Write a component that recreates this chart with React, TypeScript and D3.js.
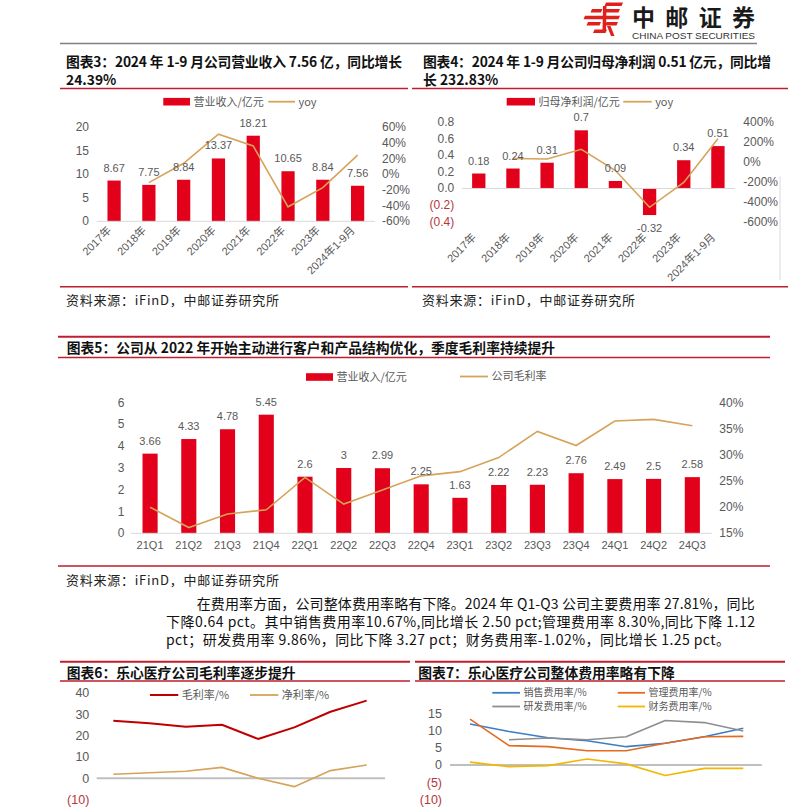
import React from 'react';
import * as d3 from 'd3';

// ---------- data ----------
const years = ['2017年', '2018年', '2019年', '2020年', '2021年', '2022年', '2023年', '2024年1-9月'];
const revenue = [8.67, 7.75, 8.84, 13.37, 18.21, 10.65, 8.84, 7.56];
const revenueYoy: (number | null)[] = [null, -0.106, 0.141, 0.512, 0.362, -0.415, -0.17, 0.2439];
const revLeftTicks = [0, 5, 10, 15, 20];
const revRightTicks = [-0.6, -0.4, -0.2, 0, 0.2, 0.4, 0.6];

const netProfit = [0.18, 0.24, 0.31, 0.7, 0.09, -0.32, 0.34, 0.51];
const netProfitYoy: (number | null)[] = [null, 0.333, 0.292, 1.258, -0.871, -4.556, -2.063, 2.3283];
const npLeftTicks = [-0.4, -0.2, 0, 0.2, 0.4, 0.6, 0.8];
const npRightTicks = [-6, -4, -2, 0, 2, 4];

const quarters = ['21Q1', '21Q2', '21Q3', '21Q4', '22Q1', '22Q2', '22Q3', '22Q4', '23Q1', '23Q2', '23Q3', '23Q4', '24Q1', '24Q2', '24Q3'];
const quarterRevenue = [3.66, 4.33, 4.78, 5.45, 2.6, 3, 2.99, 2.25, 1.63, 2.22, 2.23, 2.76, 2.49, 2.5, 2.58];
const quarterGrossMargin = [0.2, 0.161, 0.187, 0.195, 0.257, 0.206, 0.233, 0.26, 0.268, 0.295, 0.345, 0.318, 0.365, 0.368, 0.356];
const qLeftTicks = [0, 1, 2, 3, 4, 5, 6];
const qRightTicks = [0.15, 0.2, 0.25, 0.3, 0.35, 0.4];

const periods = ['2017', '2018', '2019', '2020', '2021', '2022', '2023', '2024Q1-Q3'];
const grossMargin = [26.9, 25.7, 24.1, 25.0, 18.4, 23.8, 31.1, 36.3];
const netMargin = [1.9, 2.6, 3.3, 5.1, 0.0, -3.9, 3.6, 6.2];
const marginTicks = [-10, 0, 10, 20, 30, 40];

const salesRate: (number | null)[] = [11.9, 9.7, 7.9, 7.0, 5.3, 6.3, 8.2, 10.67];
const adminRate: (number | null)[] = [13.3, 5.6, 5.3, 4.1, 4.1, 6.3, 8.2, 8.3];
const rdRate: (number | null)[] = [null, 7.3, 7.8, 7.3, 8.2, 12.9, 12.3, 9.86];
const financeRate: (number | null)[] = [0.8, -0.5, -0.2, 1.7, 0.3, -3.1, -1.0, -1.02];
const expenseTicks = [-10, -5, 0, 5, 10, 15];

// ---------- styles ----------
const CJK = '"Noto Sans CJK SC", "Noto Sans", sans-serif';
const NUM = '"Liberation Sans", Arial, "Noto Sans CJK SC", sans-serif';
const BAR = '#E2001A';
const GOLD = '#D5A35A';
const AX = '#595959';
const NEG = '#B5373A';
const RULE = '#BE1E2D';
const GRID = '#D9D9D9';

type BLProps = {
  cats: string[];
  bars: number[];
  line: (number | null)[];
  x0: number; x1: number; yTop: number; yBot: number;
  lDomain: [number, number]; rDomain: [number, number];
  lTicks: number[]; rTicks: number[];
  lFmt: (v: number) => string; rFmt: (v: number) => string;
  lX: number; rX: number;
  barFrac: number;
  rotLabels: boolean; labelY: number;
  lineW: number;
  negRed?: boolean;
};

function BarLine(p: BLProps) {
  const x = d3.scaleBand<string>().domain(p.cats).range([p.x0, p.x1]);
  const yl = d3.scaleLinear().domain(p.lDomain).range([p.yBot, p.yTop]);
  const yr = d3.scaleLinear().domain(p.rDomain).range([p.yBot, p.yTop]);
  const bw = x.bandwidth() * p.barFrac;
  const cx = (c: string) => (x(c) as number) + x.bandwidth() / 2;
  const pts = p.cats.map((c, i) => ({ x: cx(c), v: p.line[i] }));
  const path = d3.line<{ x: number; v: number | null }>()
    .defined(d => d.v != null)
    .x(d => d.x)
    .y(d => yr(d.v as number))(pts) || '';
  const zero = yl(0);
  return (
    <g>
      {p.lTicks.map(t => (
        <text key={'l' + t} x={p.lX} y={yl(t) + 4} textAnchor="end" fontSize={12} fontFamily={NUM}
          fill={p.negRed && t < 0 ? NEG : AX}>{p.lFmt(t)}</text>
      ))}
      {p.rTicks.map(t => (
        <text key={'r' + t} x={p.rX} y={yr(t) + 4} textAnchor="start" fontSize={12} fontFamily={NUM} fill={AX}>{p.rFmt(t)}</text>
      ))}
      {p.cats.map((c, i) => {
        const v = p.bars[i];
        const y0 = Math.min(yl(v), zero);
        return <rect key={c} x={cx(c) - bw / 2} y={y0} width={bw} height={Math.abs(yl(v) - zero)} fill={BAR} />;
      })}
      <line x1={p.x0} x2={p.x1} y1={zero} y2={zero} stroke={GRID} strokeWidth={1} />
      <path d={path} fill="none" stroke={GOLD} strokeWidth={p.lineW} />
      {p.cats.map((c, i) => {
        const v = p.bars[i];
        const y = v >= 0 ? yl(v) - 9 : yl(v) + 17;
        return <text key={'v' + c} x={cx(c)} y={y} textAnchor="middle" fontSize={11} fontFamily={NUM} fill={AX}>{String(v)}</text>;
      })}
      {p.cats.map(c => p.rotLabels ? (
        <text key={'x' + c} transform={`translate(${cx(c) - 2},${p.labelY}) rotate(-45)`} textAnchor="end"
          fontSize={11} fontFamily={NUM} fill={AX}>{c}</text>
      ) : (
        <text key={'x' + c} x={cx(c)} y={p.labelY} textAnchor="middle" fontSize={11} fontFamily={NUM} fill={AX}>{c}</text>
      ))}
    </g>
  );
}

type Series = { values: (number | null)[]; color: string; width: number };

function LineChart(p: { n: number; px0: number; px1: number; ax0: number; ax1: number; yTop: number; yBot: number; domain: [number, number]; ticks: number[]; lX: number; series: Series[] }) {
  const idx = d3.range(p.n);
  const x = d3.scalePoint<number>().domain(idx).range([p.px0, p.px1]);
  const y = d3.scaleLinear().domain(p.domain).range([p.yBot, p.yTop]);
  const gen = d3.line<number | null>()
    .defined(d => d != null)
    .x((_, i) => x(i) as number)
    .y(d => y(d as number));
  return (
    <g>
      {p.ticks.map(t => (
        <text key={t} x={p.lX} y={y(t) + 4.5} textAnchor="end" fontSize={12.5} fontFamily={NUM}
          fill={t < 0 ? NEG : AX}>{t < 0 ? `(${-t})` : String(t)}</text>
      ))}
      <line x1={p.ax0} x2={p.ax1} y1={y(0)} y2={y(0)} stroke="#BFBFBF" strokeWidth={2} />
      {p.series.map((s, k) => (
        <path key={k} d={gen(s.values) || ''} fill="none" stroke={s.color} strokeWidth={s.width} strokeLinejoin="round" />
      ))}
    </g>
  );
}

function Legend({ items, fs = 11 }: { fs?: number; items: { kind: 'rect' | 'line'; x: number; y: number; w: number; color: string; label: string; lw?: number }[] }) {
  return (
    <g>
      {items.map((it, i) => (
        <g key={i}>
          {it.kind === 'rect'
            ? <rect x={it.x} y={it.y - 3.8} width={it.w} height={7.6} fill={it.color} />
            : <line x1={it.x} x2={it.x + it.w} y1={it.y} y2={it.y} stroke={it.color} strokeWidth={it.lw || 1.8} />}
          <text x={it.x + it.w + 3.5} y={it.y + fs * 0.36} fontSize={fs} fontFamily={CJK} fill={AX}>{it.label}</text>
        </g>
      ))}
    </g>
  );
}

function Title({ x, y, text, len }: { x: number; y: number; text: string; len?: number }) {
  return (
    <text x={x} y={y} fontSize={13.8} fontWeight={700} fontFamily={CJK} fill="#111"
      {...(len ? { textLength: len, lengthAdjust: 'spacing' } : {})}>{text}</text>
  );
}

function Source({ x, y }: { x: number; y: number }) {
  return <text x={x} y={y} fontSize={13} fontFamily={CJK} fill="#222" textLength={213} lengthAdjust="spacing">资料来源：iFinD，中邮证券研究所</text>;
}

function Rule({ x1, x2, y, w = 1.5 }: { x1: number; x2: number; y: number; w?: number }) {
  return <line x1={x1} x2={x2} y1={y} y2={y} stroke={RULE} strokeWidth={w} />;
}

function Logo() {
  return (
    <g>
      <g transform="translate(576,0)" fill="#E0201B">
        <polygon points="30,2.5 47,2.5 45.5,6 28.5,6" />
        <polygon points="16,9 26.5,9 25,12.5 14.5,12.5" />
        <polygon points="30,9 44,9 42.5,12.5 28.5,12.5" />
        <polygon points="9,15.8 44,15.8 42.5,19.3 7.5,19.3" />
        <polygon points="12,22 25,22 23.5,25.5 10.5,25.5" />
        <polygon points="30.5,22 42,22 40.5,25.5 29,25.5" />
        <polygon points="18.5,29.5 31,29.5 29.5,33 17,33" />
        <polygon points="27,6 30.5,6 30,30 26.5,30" />
        <polygon points="31,26 34.5,26 38.5,36 35,36" />
      </g>
      <text x={632} y={26} fontSize={23} fontWeight={700} fontFamily={CJK} fill="#1a1a1a" textLength={123} lengthAdjust="spacing">中邮证券</text>
      <text x={632} y={38.5} fontSize={9.5} fontFamily={NUM} fill="#333" textLength={123} lengthAdjust="spacingAndGlyphs">CHINA POST SECURITIES</text>
      <line x1={60} x2={757} y1={43.5} y2={43.5} stroke="#808080" strokeWidth={1.6} />
    </g>
  );
}

const pct0 = (v: number) => `${Math.round(v * 100)}%`;

export default function App() {
  return (
    <div style={{ position: 'absolute', left: 0, top: 0 }}>
      <svg width={812} height={807} viewBox="0 0 812 807" style={{ display: 'block', background: '#fff' }}>
        <rect width={812} height={807} fill="#fff" />
        <Logo />

        {/* Chart 3 */}
        <Title x={66} y={66.5} text="图表3：2024 年 1-9 月公司营业收入 7.56 亿，同比增长" len={336} />
        <Title x={66} y={85} text="24.39%" />
        <Rule x1={60} x2={408} y={88.5} />
        <Legend items={[
          { kind: 'rect', x: 163.3, y: 101.7, w: 26.7, color: BAR, label: '营业收入/亿元' },
          { kind: 'line', x: 268.3, y: 101.7, w: 26.7, color: GOLD, label: 'yoy' },
        ]} />
        <BarLine cats={years} bars={revenue} line={revenueYoy}
          x0={96.7} x1={375} yTop={127.3} yBot={221.3}
          lDomain={[0, 20]} rDomain={[-0.6, 0.6]} lTicks={revLeftTicks} rTicks={revRightTicks}
          lFmt={v => String(v)} rFmt={pct0} lX={89} rX={382} barFrac={0.38}
          rotLabels={true} labelY={231} lineW={1.6} />
        <Rule x1={60} x2={408} y={286.7} />
        <Source x={66} y={305} />

        {/* Chart 4 */}
        <Title x={423} y={66.5} text="图表4：2024 年 1-9 月公司归母净利润 0.51 亿元，同比增" len={348} />
        <Title x={423} y={85} text="长 232.83%" />
        <Rule x1={412} x2={788} y={88.5} />
        <Legend items={[
          { kind: 'rect', x: 506.7, y: 101.7, w: 28.3, color: BAR, label: '归母净利润/亿元' },
          { kind: 'line', x: 623.3, y: 101.7, w: 28.4, color: GOLD, label: 'yoy' },
        ]} />
        <BarLine cats={years} bars={netProfit} line={netProfitYoy}
          x0={461.7} x1={735} yTop={122} yBot={221.7}
          lDomain={[-0.4, 0.8]} rDomain={[-6, 4]} lTicks={npLeftTicks} rTicks={npRightTicks}
          lFmt={v => (v < 0 ? `(${(-v).toFixed(1)})` : v.toFixed(1))} rFmt={v => `${Math.round(v * 100)}%`}
          lX={454.3} rX={743.3} barFrac={0.39} rotLabels={true} labelY={238} lineW={1.6} negRed={true} />
        <line x1={780} x2={780} y1={176.7} y2={280} stroke="#D9D9D9" strokeWidth={1} />
        <Rule x1={412} x2={788} y={286.7} />
        <Source x={422} y={305} />

        {/* Chart 5 */}
        <Rule x1={58} x2={770} y={336.7} w={2} />
        <Title x={66.7} y={353} text="图表5：公司从 2022 年开始主动进行客户和产品结构优化，季度毛利率持续提升" />
        <Rule x1={58} x2={770} y={357.5} />
        <Legend items={[
          { kind: 'rect', x: 306, y: 377, w: 27, color: BAR, label: '营业收入/亿元' },
          { kind: 'line', x: 460, y: 376.5, w: 28, color: GOLD, label: '公司毛利率' },
        ]} />
        <BarLine cats={quarters} bars={quarterRevenue} line={quarterGrossMargin}
          x0={130.7} x1={711.7} yTop={402.7} yBot={533.3}
          lDomain={[0, 6]} rDomain={[0.15, 0.4]} lTicks={qLeftTicks} rTicks={qRightTicks}
          lFmt={v => String(v)} rFmt={pct0} lX={124.5} rX={719.3} barFrac={0.39}
          rotLabels={false} labelY={549} lineW={1.6} />
        <Rule x1={58} x2={770} y={566} />
        <Source x={66} y={585} />

        {/* Paragraph */}
        <text x={196.7} y={608.5} fontSize={14} fontFamily={CJK} fill="#111" textLength={558} lengthAdjust="spacing">在费用率方面，公司整体费用率略有下降。2024 年 Q1-Q3 公司主要费用率 27.81%，同比</text>
        <text x={166} y={626.5} fontSize={14} fontFamily={CJK} fill="#111" textLength={589} lengthAdjust="spacing">下降0.64 pct。其中销售费用率10.67%,同比增长 2.50 pct;管理费用率 8.30%,同比下降 1.12</text>
        <text x={166} y={645} fontSize={14} fontFamily={CJK} fill="#111" textLength={564} lengthAdjust="spacing">pct；研发费用率 9.86%，同比下降 3.27 pct；财务费用率-1.02%，同比增长 1.25 pct。</text>

        {/* Chart 6 */}
        <Rule x1={60} x2={410} y={661.7} w={2} />
        <Title x={66.7} y={677.5} text="图表6：乐心医疗公司毛利率逐步提升" />
        <Rule x1={60} x2={410} y={681} />
        <Legend items={[
          { kind: 'line', x: 150, y: 695, w: 28.3, color: '#C00000', label: '毛利率/%', lw: 2 },
          { kind: 'line', x: 250, y: 695, w: 28.3, color: GOLD, label: '净利率/%', lw: 1.8 },
        ]} />
        <LineChart n={periods.length} px0={113.3} px1={366.7} ax0={96.7} ax1={385}
          yTop={692.7} yBot={799.7} domain={[-10, 40]} ticks={marginTicks} lX={89.3}
          series={[
            { values: grossMargin, color: '#C00000', width: 2 },
            { values: netMargin, color: GOLD, width: 1.6 },
          ]} />

        {/* Chart 7 */}
        <Rule x1={415} x2={785} y={661.7} w={2} />
        <Title x={418.3} y={677.5} text="图表7：乐心医疗公司整体费用率略有下降" />
        <Rule x1={415} x2={785} y={681} />
        <Legend fs={10} items={[
          { kind: 'line', x: 492.3, y: 692.8, w: 27.7, color: '#3A7DC9', label: '销售费用率/%' },
          { kind: 'line', x: 617.7, y: 692.8, w: 27.3, color: '#E46A1E', label: '管理费用率/%' },
          { kind: 'line', x: 492.3, y: 706.5, w: 27.7, color: '#8E8E8E', label: '研发费用率/%' },
          { kind: 'line', x: 617.7, y: 706.5, w: 27.3, color: '#F2B705', label: '财务费用率/%' },
        ]} />
        <LineChart n={periods.length} px0={470} px1={743.3} ax0={450} ax1={761.7}
          yTop={713.3} yBot={799.3} domain={[-10, 15]} ticks={expenseTicks} lX={442}
          series={[
            { values: salesRate, color: '#3A7DC9', width: 1.6 },
            { values: adminRate, color: '#E46A1E', width: 1.6 },
            { values: rdRate, color: '#8E8E8E', width: 1.6 },
            { values: financeRate, color: '#F2B705', width: 1.6 },
          ]} />
      </svg>
    </div>
  );
}
